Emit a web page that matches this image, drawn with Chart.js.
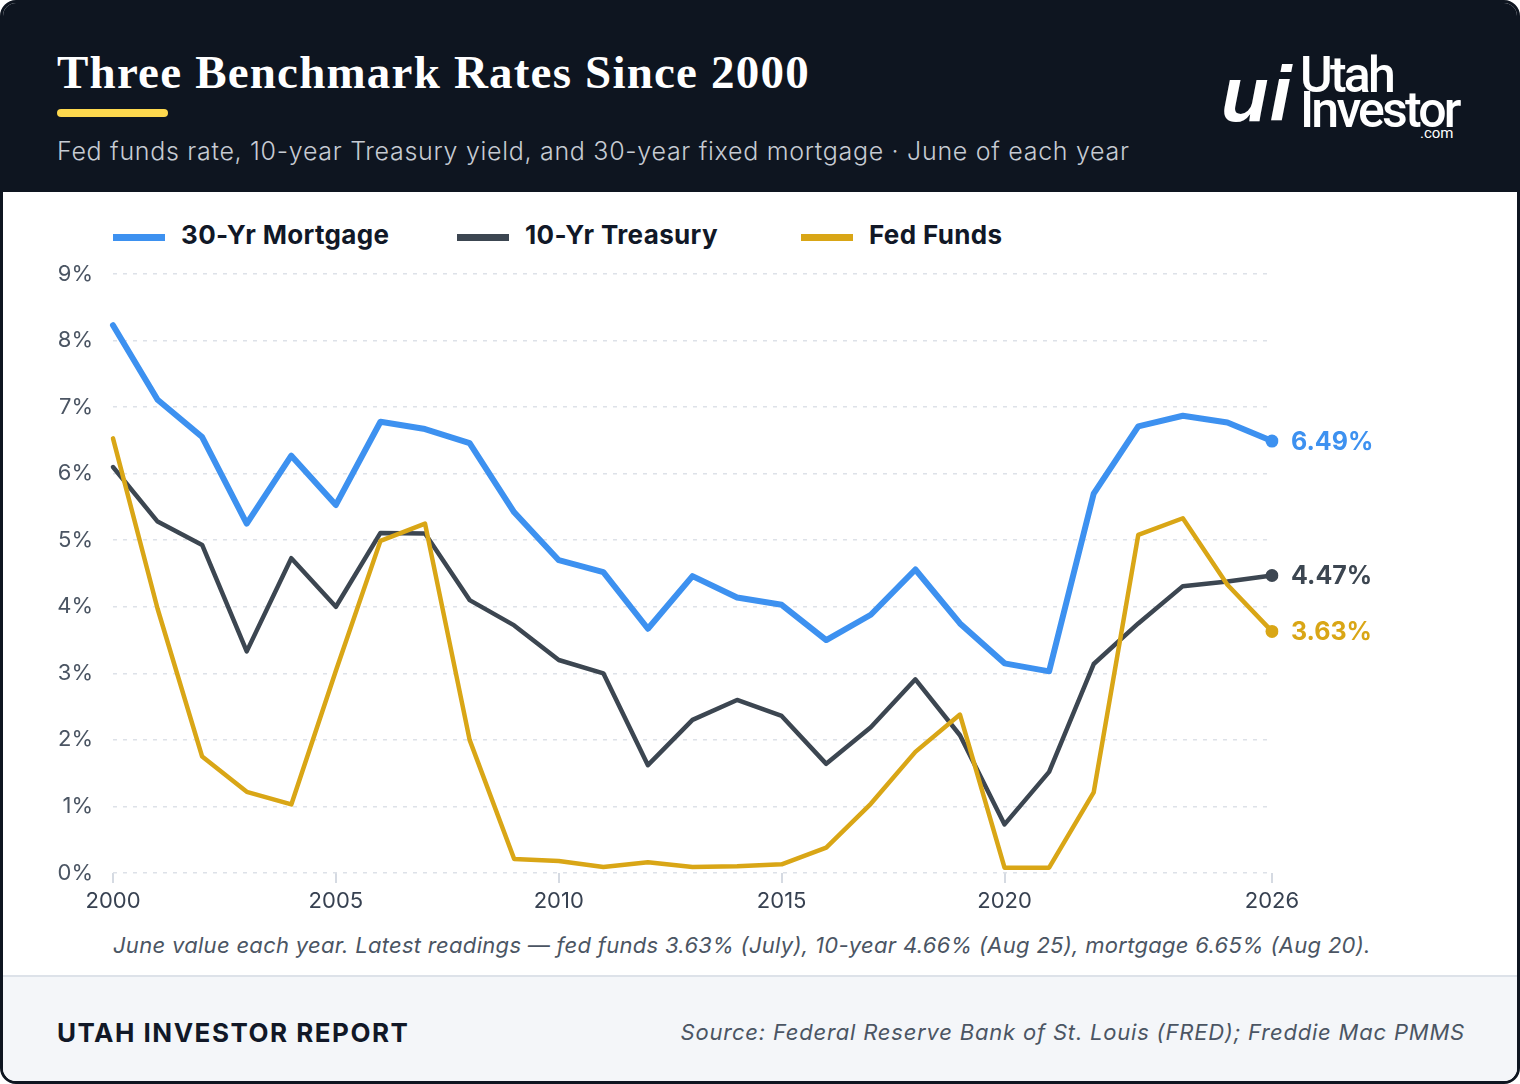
<!DOCTYPE html>
<html>
<head>
<meta charset="utf-8">
<script src="https://cdn.jsdelivr.net/npm/chart.js@4.4.1/dist/chart.umd.min.js"></script>
<style>
  html, body { margin: 0; padding: 0; background: #ffffff; }
  body { width: 1520px; height: 1084px; overflow: hidden; font-family: Inter, "Noto Sans", sans-serif; }
  .card { position: absolute; left: 0; top: 0; width: 1514px; height: 1078px; border: 3px solid #0e1520; border-radius: 16px; overflow: hidden; background: #fff; }
  .head { position: absolute; left: 0; top: 0; width: 1514px; height: 189px; background: #0e1520; }
  .title { position: absolute; left: 54px; top: 42px; font-family: "Liberation Serif", serif; font-weight: bold; font-size: 47px; letter-spacing: 1.2px; color: #fff; white-space: nowrap; }
  .bar { position: absolute; left: 54px; top: 106px; width: 111px; height: 8px; border-radius: 4px; background: #fdd84e; }
  .sub { position: absolute; left: 54px; top: 133px; font-size: 25px; font-weight: 300; letter-spacing: 0.7px; color: #c6cbd3; white-space: nowrap; }
  .logo-ui { position: absolute; left: 1218px; top: 46px; font-family: "Liberation Sans", sans-serif; font-style: italic; font-weight: bold; font-size: 78px; color: #fff; letter-spacing: 1px; }
  .logo-t { position: absolute; left: 1297px; top: 55px; font-family: Roboto, sans-serif; font-weight: 500; font-size: 50px; line-height: 35px; color: #fff; letter-spacing: -2.8px; }
  .logo-c { position: absolute; left: 1417px; top: 121px; font-family: Roboto, sans-serif; font-size: 15px; color: #fff; }
  .legend { position: absolute; top: 214px; left: 0; height: 36px; }
  .item { position: absolute; top: 0; height: 36px; white-space: nowrap; }
  .sw { position: absolute; left: 0; top: 17px; width: 52px; height: 7px; }
  .lt { position: absolute; left: 68px; top: 0; font-size: 26px; font-weight: 700; letter-spacing: 0.35px; line-height: 36px; color: #111827; }
  .chartbox { position: absolute; left: 0; top: 189px; width: 1514px; height: 740px; }
  .note { position: absolute; left: 110px; top: 929px; font-size: 22px; font-style: italic; letter-spacing: 0.3px; color: #4b5563; white-space: nowrap; }
  .foot { position: absolute; left: 0; top: 972px; width: 1514px; height: 106px; background: #f4f6f9; border-top: 2px solid #dde2e9; }
  .brand { position: absolute; left: 54px; top: 40px; font-size: 26px; font-weight: 700; letter-spacing: 1.5px; color: #111827; }
  .src { position: absolute; right: 52px; top: 42px; font-size: 22px; font-style: italic; letter-spacing: 0.8px; color: #4b5563; white-space: nowrap; }
</style>
</head>
<body>
<div class="card">
  <div class="head">
    <div class="title">Three Benchmark Rates Since 2000</div>
    <div class="bar"></div>
    <div class="sub">Fed funds rate, 10-year Treasury yield, and 30-year fixed mortgage · June of each year</div>
    <div class="logo-ui">ui</div>
    <div class="logo-t">Utah<br>Investor</div>
    <div class="logo-c">.com</div>
  </div>
  <div class="legend" id="legend"></div>
  <div class="chartbox"><canvas id="myChart"></canvas></div>
  <div class="note">June value each year. Latest readings — fed funds 3.63% (July), 10-year 4.66% (Aug 25), mortgage 6.65% (Aug 20).</div>
  <div class="foot">
    <div class="brand">UTAH INVESTOR REPORT</div>
    <div class="src">Source: Federal Reserve Bank of St. Louis (FRED); Freddie Mac PMMS</div>
  </div>
</div>
<script>
var years = ['2000','2001','2002','2003','2004','2005','2006','2007','2008','2009',
  '2010','2011','2012','2013','2014','2015','2016','2017','2018','2019',
  '2020','2021','2022','2023','2024','2025','2026'];
var shownYears = ['2000','2005','2010','2015','2020','2026'];

var mortgage = [8.23, 7.11, 6.55, 5.25, 6.27, 5.53, 6.78, 6.67, 6.46, 5.42,
  4.70, 4.52, 3.67, 4.46, 4.14, 4.03, 3.50, 3.88, 4.56, 3.75,
  3.15, 3.03, 5.70, 6.71, 6.87, 6.77, 6.49];
var treasury = [6.10, 5.28, 4.93, 3.33, 4.73, 4.00, 5.11, 5.10, 4.10, 3.72,
  3.20, 3.00, 1.62, 2.30, 2.60, 2.36, 1.64, 2.19, 2.91, 2.07,
  0.73, 1.52, 3.14, 3.75, 4.31, 4.38, 4.47];
var fedFunds = [6.53, 3.97, 1.75, 1.22, 1.03, 3.04, 4.99, 5.25, 2.00, 0.21,
  0.18, 0.09, 0.16, 0.09, 0.10, 0.13, 0.38, 1.04, 1.82, 2.38,
  0.08, 0.08, 1.21, 5.08, 5.33, 4.33, 3.63];

var colors = { blue: '#3d91f0', slate: '#3c4651', gold: '#d9a616' };

var series = [
  { label: '30-Yr Mortgage', data: mortgage, color: colors.blue, width: 6, order: 0 },
  { label: '10-Yr Treasury', data: treasury, color: colors.slate, width: 4.5, order: 2 },
  { label: 'Fed Funds', data: fedFunds, color: colors.gold, width: 4.5, order: 1 }
];

// legend, fixed spacing like the original
var legend = document.getElementById('legend');
series.forEach(function(s, i) {
  var el = document.createElement('div');
  el.className = 'item';
  el.style.left = (110 + i * 344) + 'px';
  el.innerHTML = '<div class="sw" style="background:' + s.color + '"></div><div class="lt">' + s.label + '</div>';
  legend.appendChild(el);
});

var last = years.length - 1;

var endLabels = {
  id: 'endLabels',
  afterDatasetsDraw: function(chart) {
    var ctx = chart.ctx;
    ctx.save();
    ctx.font = 'bold 25px Inter, sans-serif';
    ctx.textAlign = 'left';
    ctx.textBaseline = 'middle';
    chart.data.datasets.forEach(function(ds, i) {
      var pt = chart.getDatasetMeta(i).data[last];
      ctx.fillStyle = ds.borderColor;
      ctx.fillText(ds.data[last].toFixed(2) + '%', pt.x + 19, pt.y + 1);
    });
    ctx.restore();
  }
};

Chart.defaults.font.family = 'Inter, "Noto Sans", sans-serif';

var config = {
  type: 'line',
  data: {
    labels: years,
    datasets: series.map(function(s) {
      return {
        label: s.label,
        data: s.data,
        borderColor: s.color,
        backgroundColor: s.color,
        borderWidth: s.width,
        order: s.order,
        tension: 0,
        borderJoinStyle: 'round',
        borderCapStyle: 'round',
        pointRadius: function(c) { return c.dataIndex === last ? 6.5 : 0; },
        pointHoverRadius: 0,
        pointBorderWidth: 0
      };
    })
  },
  options: {
    animation: false,
    responsive: true,
    maintainAspectRatio: false,
    layout: { padding: { left: 0, right: 245, top: 82, bottom: 10 } },
    plugins: { legend: { display: false }, tooltip: { enabled: false } },
    scales: {
      x: {
        offset: false,
        border: { display: false },
        grid: {
          drawOnChartArea: false,
          drawTicks: true,
          tickLength: 10,
          lineWidth: 2,
          color: function(c) {
            return shownYears.indexOf(years[c.index]) >= 0 ? '#d5dae2' : 'transparent';
          }
        },
        ticks: {
          autoSkip: false,
          maxRotation: 0,
          padding: 5,
          color: '#374151',
          font: { size: 22 },
          callback: function(v, i) {
            return shownYears.indexOf(years[i]) >= 0 ? years[i] : '';
          }
        },
        afterFit: function(scale) { scale.height = 49; }
      },
      y: {
        min: 0,
        max: 9,
        border: { display: false, dash: [4, 6] },
        grid: { color: '#dde1e8', lineWidth: 1.5, drawTicks: false },
        ticks: {
          stepSize: 1,
          padding: 20,
          color: '#4b5563',
          font: { size: 22 },
          callback: function(v) { return v + '%'; }
        },
        afterFit: function(scale) { scale.width = 110; }
      }
    }
  },
  plugins: [endLabels]
};

window.onload = function() {
  var ctx = document.getElementById('myChart').getContext('2d');
  window.myChart = new Chart(ctx, config);
};
</script>
</body>
</html>
